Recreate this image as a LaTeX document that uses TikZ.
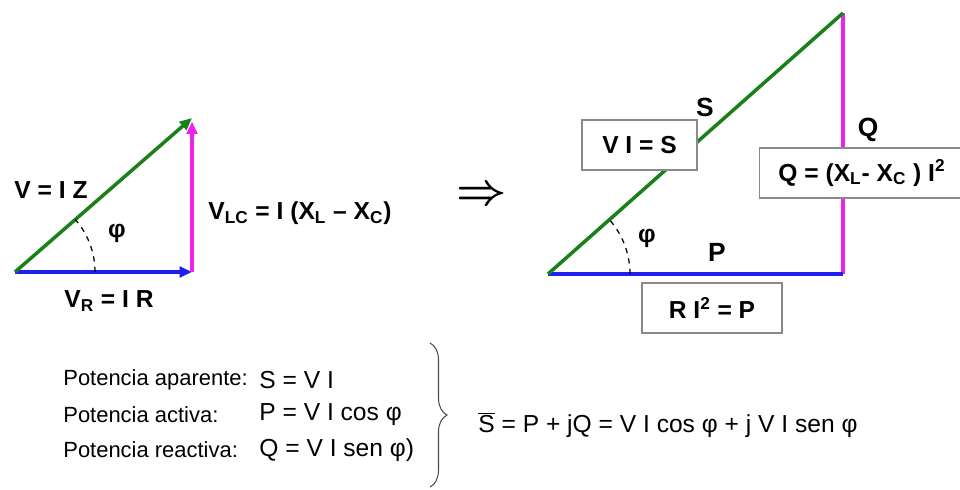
\documentclass[tikz,border=0pt]{standalone}
\usepackage{fontspec}
\setmainfont{Liberation Sans}
\usetikzlibrary{arrows.meta, positioning, decorations.pathreplacing}
\definecolor{vgreen}{HTML}{1A801A}
\definecolor{vblue}{HTML}{1F1FF0}
\definecolor{vmagenta}{HTML}{EE22EE}
\definecolor{boxgray}{HTML}{8A8A8A}

\begin{document}
\begin{tikzpicture}[
    x=0.02cm, y=-0.02cm,
    vec/.style={line width=2pt, -{Triangle[length=7pt, width=6pt]}},
    side/.style={line width=2pt},
    angarc/.style={dashed, line width=0.7pt},
    lbl/.style={font=\fontsize{14}{16}\selectfont\bfseries, inner sep=0pt},
    big/.style={font=\fontsize{15}{17}\selectfont\bfseries, inner sep=0pt},
    formula/.style={draw=boxgray, fill=white, line width=0.6pt, minimum height=1cm,
                    font=\fontsize{14}{16}\selectfont\bfseries, inner sep=0pt},
    txt/.style={font=\fontsize{12.5}{14}\selectfont, anchor=west, inner sep=0pt},
    eq/.style={font=\fontsize{14}{16}\selectfont, anchor=west, inner sep=0pt},
]
    \useasboundingbox (0,0) rectangle (960,490);

    % triangulo de tensiones
    \coordinate (o1) at (15,272);
    \coordinate (r1) at (192,272);
    \coordinate (t1) at (192,118);
    \draw[vec, vblue] (o1) -- (r1);
    \draw[vec, vmagenta, shorten >=2pt] (r1) -- (t1);
    \draw[vec, vgreen] (o1) -- (t1);
    \draw[angarc] (o1) ++(80,0) arc[start angle=0, end angle=-41, radius=80];

    \node[lbl] (vz)   at (51,190)  {V = I Z};
    \node[lbl] (phi1) at (117,233) {φ};
    \node[lbl] (vlc)  at (300,213) {V\textsubscript{LC} = I (X\textsubscript{L} – X\textsubscript{C})};
    \node[lbl] (vr)   at (109,301) {V\textsubscript{R} = I R};

    \node[font=\fontsize{28}{28}\selectfont\mathversion{bold}] (impl) at (482,196) {$\Rightarrow$};

    % triangulo de potencias
    \coordinate (o2) at (548,274);
    \coordinate (r2) at (843,274);
    \coordinate (t2) at (843,13);
    \draw[side, vmagenta] (r2) -- (t2);
    \draw[side, vblue] (o2) -- (r2);
    \draw[side, vgreen] (o2) -- (t2);
    \draw[angarc] (o2) ++(82,0) arc[start angle=0, end angle=-41.5, radius=82];

    \node[big] (s)    at (705,107) {S};
    \node[big] (q)    at (868,130) {Q};
    \node[big] (p)    at (717,252) {P};
    \node[lbl] (phi2) at (647,238) {φ};

    \node[formula, minimum width=2.3cm]  (bs) at (639.5,145) {V I = S};
    \node[formula, minimum width=4.12cm] (bq) at (862,173)
        {Q = (X\textsubscript{L}- X\textsubscript{C} ) I\textsuperscript{2}};
    \node[formula, minimum width=2.8cm]  (bp) at (712,308) {R I\textsuperscript{2} = P};

    % potencias
    \node[txt] (tap) at (63,380) {Potencia aparente:};
    \node[txt] (tac) at (63,415) {Potencia activa:};
    \node[txt] (tre) at (63,450) {Potencia reactiva:};
    \node[eq]  (fap) at (259,380) {S = V I};
    \node[eq]  (fac) at (259,415) {P = V I cos φ};
    \node[eq]  (fre) at (259,450) {Q = V I sen φ)};

    \coordinate (bt) at (430,343);
    \coordinate (bb) at (430,487);
    \draw[decorate, decoration={brace, amplitude=0.34cm}, line width=0.6pt, black!70] (bt) -- (bb);

    \node[eq] (sbar) at (478,425)
        {$\overline{\hbox{S}}$ = P + jQ = V I cos φ + j V I sen φ};
\end{tikzpicture}
\end{document}
